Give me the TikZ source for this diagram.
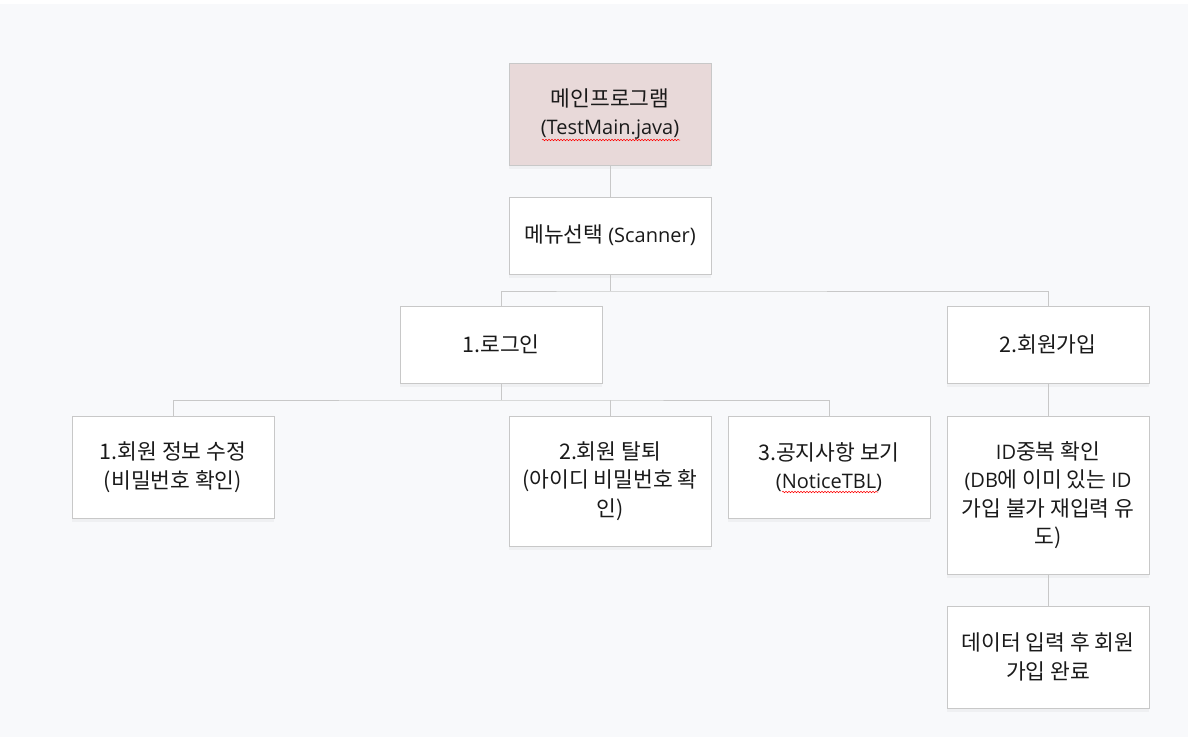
\documentclass[tikz,border=0pt]{standalone}
\usepackage{fontspec}
\setmainfont{Noto Sans CJK KR}
\newfontfamily\lat{Open Sans}
\usetikzlibrary{shadows,decorations.pathmorphing}
\definecolor{bg}{HTML}{F8F9FB}
\definecolor{edge}{HTML}{C8C8C8}
\definecolor{mainfill}{HTML}{E8D9D9}
\definecolor{txt}{HTML}{1A1A1A}
\newcommand{\lt}[1]{{\lat\fontsize{20}{28.5}\selectfont #1}}
\tikzset{
  box/.style={draw=edge, line width=0.9pt, fill=white, align=center, inner sep=0pt,
    font=\fontsize{21.5}{28.5}\selectfont, text=txt,
    drop shadow={opacity=0.07, shadow xshift=0pt, shadow yshift=-4pt}},
  link/.style={draw=edge, line width=0.9pt},
  squiggle/.style={draw=red, line width=0.5pt, decorate, decoration={snake, amplitude=0.8pt, segment length=3pt}}
}
\begin{document}
\begin{tikzpicture}[x=1pt,y=-1pt]
\fill[bg] (0,0) rectangle (1188,737);
\fill[white] (0,0) rectangle (1188,4);
\useasboundingbox (0,0) rectangle (1188,737);
\node[box, fill=mainfill, minimum width=202pt, minimum height=102pt] (main) at (610,114) {메인프로그램\\\lt{(TestMain.java)}};
\node[box, minimum width=202pt, minimum height=77pt] (menu) at (610,235.5) {메뉴선택 \lt{(Scanner)}};
\node[box, minimum width=202pt, minimum height=77pt] (login) at (501,344.5) {1.로그인};
\node[box, minimum width=202pt, minimum height=77pt] (join) at (1048,344.5) {2.회원가입};
\node[box, minimum width=202pt, minimum height=102pt] (edit) at (173,467) {1.회원 정보 수정\\(비밀번호 확인)};
\node[box, minimum width=202pt, minimum height=130pt] (quit) at (610,481) {2.회원 탈퇴\\(아이디 비밀번호 확\\인)};
\node[box, minimum width=202pt, minimum height=102pt] (notice) at (829,467) {3.공지사항 보기\\\lt{(NoticeTBL)}};
\node[box, minimum width=202pt, minimum height=158pt] (idchk) at (1048,495) {\lt{ID}중복 확인\\\lt{(DB}에 이미 있는 \lt{ID}\\가입 불가 재입력 유\\도)};
\node[box, minimum width=202pt, minimum height=102pt] (done) at (1048,657) {데이터 입력 후 회원\\가입 완료};
\coordinate (j1) at (610,291);
\coordinate (j2) at (501,400);
\draw[link] (main.south) -- (menu.north);
\draw[link] (menu.south) -- (j1);
\draw[link] (login.north) |- (j1) -| (join.north);
\draw[link] (login.south) -- (j2);
\draw[link] (edit.north) |- (j2) -| (notice.north);
\draw[link] (quit.north) -- (quit.north |- j2);
\draw[link] (join.south) -- (idchk.north);
\draw[link] (idchk.south) -- (done.north);
\draw[squiggle] (542,140) -- (680,140);
\draw[squiggle] (782,492) -- (878,492);
\end{tikzpicture}
\end{document}
